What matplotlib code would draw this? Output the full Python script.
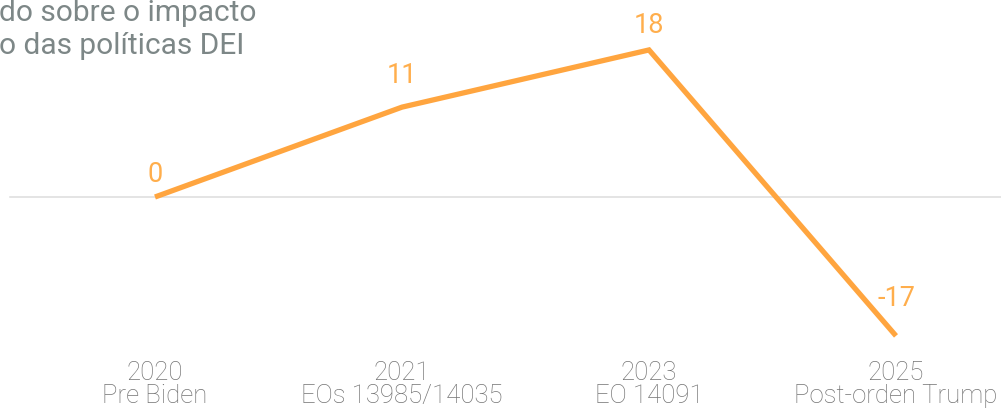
import matplotlib.pyplot as plt

years = ['2020', '2021', '2023', '2025']
events = ['Pre Biden', 'EOs 13985/14035', 'EO 14091', 'Post-orden Trump']
values = [0, 11, 18, -17]
title_lines = ['do sobre o impacto', 'o das políticas DEI']

plt.rcParams['font.family'] = ['Roboto', 'DejaVu Sans']

fig = plt.figure(figsize=(10.01, 4.19), dpi=100)
ax = fig.add_axes([0, 0, 1, 1])

# pixel scale of the reference: 0 sits at y=197, 8.17 px per unit
y0, ppu = 197, 8.17


def ypix(p):
    return (y0 - p) / ppu


x = list(range(len(values)))
ax.plot(x, values, color='#FFA53F', linewidth=3.8, solid_capstyle='butt',
        solid_joinstyle='miter', zorder=3)

# zero line
ax.axhline(0, xmin=10 / 1001, xmax=1, color='#dcdcdc', linewidth=1.1, zorder=1)

# value labels (baseline pixel rows)
label_base = [182, 83, 33, 306]
for xi, v, b in zip(x, values, label_base):
    ax.text(xi, ypix(b), f'{v}', ha='center', va='baseline', fontsize=19.5,
            color='#FFAE4C')

# category labels
for xi, yr, ev in zip(x, years, events):
    ax.text(xi, ypix(380), yr, ha='center', va='baseline', fontsize=18.5,
            color='#747474', fontweight='light')
    ax.text(xi, ypix(403), ev, ha='center', va='baseline', fontsize=18.5,
            color='#747474', fontweight='light')

# cut-off subtitle at top left
for txt, b in zip(title_lines, [21, 54]):
    fig.text(-0.001, 1 - b / 419, txt, ha='left', va='baseline',
             fontsize=21.5, color='#7d8787')

ax.set_xlim(-155 / 247, (1001 - 155) / 247)
ax.set_ylim(ypix(419), ypix(0))
ax.axis('off')

fig.savefig('out.png', dpi=100)
